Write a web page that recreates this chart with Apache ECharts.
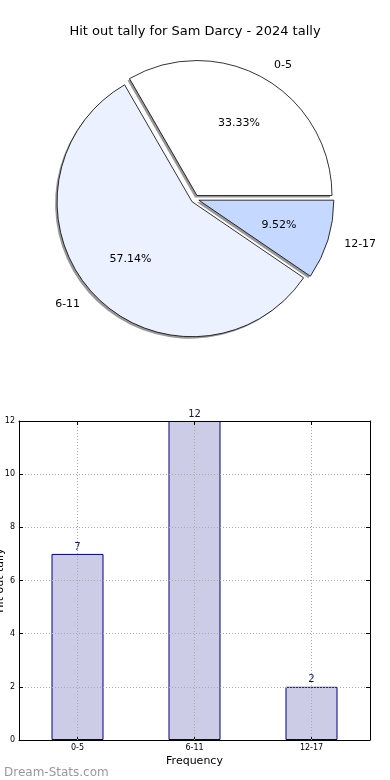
<!DOCTYPE html>
<html>
<head>
<meta charset="utf-8">
<script src="https://cdn.jsdelivr.net/npm/echarts@6/dist/echarts.min.js"></script>
<style>
html,body{margin:0;padding:0;background:#fff;}
#chart{width:390px;height:780px;}
</style>
</head>
<body>
<div id="chart"></div>
<script>
var titleText = 'Hit out tally for Sam Darcy - 2024 tally';
var categories = ['0-5', '6-11', '12-17'];
var counts = [7, 12, 2];
var sliceColors = ['#ffffff', '#ebf1ff', '#c5d8ff'];
var yTicks = [0, 2, 4, 6, 8, 10, 12];
var xAxisName = 'Frequency';
var yAxisName = 'Hit out tally';
var watermark = 'Dream-Stats.com';

var FONT = 'DejaVu Sans';
var chart = echarts.init(document.getElementById('chart'), null, {renderer: 'canvas'});

var total = counts.reduce(function (a, b) { return a + b; }, 0);
var pieData = categories.map(function (c, i) {
  return {name: c, value: counts[i], selected: true, itemStyle: {color: sliceColors[i]}};
});
var plainData = categories.map(function (c, i) {
  return {name: c, value: counts[i], selected: true};
});
// half-step positions (edges and centres) used for the top frame axis / vertical grid
var halfSteps = [''];
categories.forEach(function (c) { halfSteps.push(c); halfSteps.push(''); });
function isCentre(i) { return i % 2 === 1; }

var PIE_C = [195, 199];
var PIE_R = 135;

var option = {
  animation: false,
  title: [
    {text: titleText, left: 'center', top: 20, textStyle: {fontFamily: FONT, fontSize: 13, fontWeight: 'normal', color: '#000'}},
    {text: watermark, left: -1, top: 762, textStyle: {fontFamily: FONT, fontSize: 12, fontWeight: 'normal', color: '#999999'}}
  ],
  grid: {left: 19, right: 20, top: 421, bottom: 40, containLabel: false, outerBoundsMode: 'none'},
  xAxis: [
    {
      type: 'category', data: categories, boundaryGap: true, z: 5,
      name: xAxisName, nameLocation: 'middle', nameGap: 16, nameMoveOverlap: false,
      nameTextStyle: {fontFamily: FONT, fontSize: 11, color: '#000'},
      axisLine: {show: true, onZero: false, lineStyle: {color: '#000', width: 1}},
      axisTick: {show: true, inside: true, alignWithLabel: true, length: 4, lineStyle: {color: '#000'}},
      axisLabel: {show: true, interval: 0, fontFamily: FONT, fontSize: 8, color: '#000', margin: 4},
      splitLine: {show: false}
    },
    {
      type: 'category', data: halfSteps, boundaryGap: false, position: 'top', z: 6,
      axisLine: {show: true, onZero: false, lineStyle: {color: '#000', width: 1}},
      axisTick: {show: true, inside: true, length: 4, interval: function (i) { return isCentre(i); }, lineStyle: {color: '#000'}},
      axisLabel: {show: false},
      splitLine: {show: true, interval: function (i) { return isCentre(i); }, lineStyle: {color: '#aaaaaa', type: [1, 2], width: 1}}
    }
  ],
  yAxis: [
    {
      type: 'value', min: 0, max: 12, interval: 2, z: 5,
      name: yAxisName, nameLocation: 'middle', nameGap: 13, nameRotate: 90, nameMoveOverlap: false,
      nameTextStyle: {fontFamily: FONT, fontSize: 11, color: '#000'},
      axisLine: {show: true, onZero: false, lineStyle: {color: '#000', width: 1}},
      axisTick: {show: true, inside: true, length: 4, lineStyle: {color: '#000'}},
      axisLabel: {fontFamily: FONT, fontSize: 8, color: '#000', margin: 4,
        formatter: function (v) { return yTicks.indexOf(Number(v)) >= 0 ? String(v) : ''; }},
      splitLine: {show: true, showMinLine: false, showMaxLine: false, lineStyle: {color: '#aaaaaa', type: [1, 2], width: 1}}
    },
    {
      type: 'value', position: 'right', min: 0, max: 12, interval: 2, z: 6,
      axisLine: {show: true, onZero: false, lineStyle: {color: '#000', width: 1}},
      axisTick: {show: true, inside: true, length: 4, lineStyle: {color: '#000'}},
      axisLabel: {show: false}, splitLine: {show: false}
    }
  ],
  series: [
    {
      type: 'pie',
      center: [PIE_C[0] - 2, PIE_C[1] + 2],
      radius: PIE_R,
      startAngle: 0,
      clockwise: false,
      selectedMode: 'multiple',
      selectedOffset: 4,
      silent: true,
      avoidLabelOverlap: false,
      emphasis: {disabled: true, scale: false},
      itemStyle: {color: '#999999', borderWidth: 0},
      select: {itemStyle: {color: '#999999', borderWidth: 0}},
      label: {show: false},
      labelLine: {show: false},
      data: plainData,
      z: 1
    },
    {
      type: 'pie',
      center: PIE_C,
      radius: PIE_R,
      startAngle: 0,
      clockwise: false,
      selectedMode: 'multiple',
      selectedOffset: 4,
      avoidLabelOverlap: false,
      emphasis: {disabled: true, scale: false},
      itemStyle: {borderColor: '#000', borderWidth: 0.8},
      select: {itemStyle: {borderColor: '#000', borderWidth: 0.8}},
      label: {show: true, position: 'outside', fontFamily: FONT, fontSize: 11, color: '#000', distanceToLabelLine: 2},
      labelLine: {show: false, length: 15, length2: 0},
      data: pieData,
      z: 2
    },
    {
      type: 'pie',
      center: PIE_C,
      radius: [0, 162],
      startAngle: 0,
      clockwise: false,
      selectedMode: 'multiple',
      selectedOffset: 4,
      silent: true,
      avoidLabelOverlap: false,
      emphasis: {disabled: true, scale: false},
      itemStyle: {color: 'rgba(0,0,0,0)', borderWidth: 0},
      select: {itemStyle: {color: 'rgba(0,0,0,0)', borderWidth: 0}},
      label: {show: true, position: 'inside', fontFamily: FONT, fontSize: 11, color: '#000',
        formatter: function (p) { return (p.value / total * 100).toFixed(2) + '%'; }},
      labelLine: {show: false},
      data: plainData,
      z: 3
    },
    {
      type: 'bar',
      xAxisIndex: 0, yAxisIndex: 0,
      barWidth: 52,
      z: 2,
      itemStyle: {color: '#ccccE6', borderColor: '#000080', borderWidth: 1},
      label: {show: true, position: 'top', distance: 2, fontFamily: FONT, fontSize: 10, color: '#14145a'},
      data: counts
    }
  ]
};
chart.setOption(option);
</script>
</body>
</html>
